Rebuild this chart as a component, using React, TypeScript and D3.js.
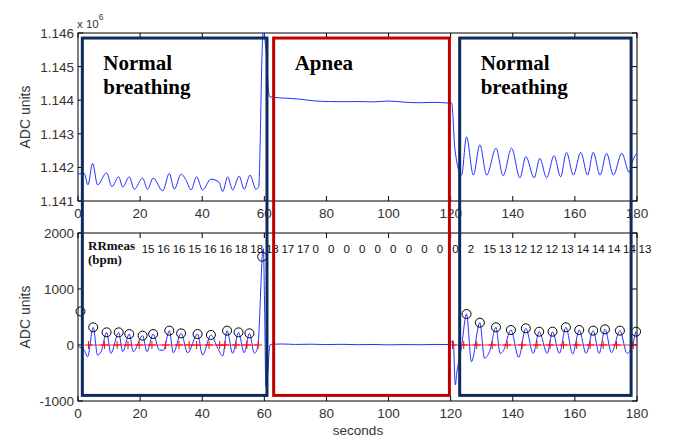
import React from 'react';
import * as d3 from 'd3';

const W = 675;
const H = 438;

// raw ADC signal, top panel: [seconds, ADC units]
const rawSignal: [number, number][] = [
  [0, 1141800], [2.0, 1141820], [3.2, 1141480], [4.7, 1142120], [6.3, 1141480],
  [9.2, 1141840], [10.9, 1141430], [13.1, 1141720], [14.4, 1141410], [16.5, 1141720],
  [18.1, 1141350], [20.8, 1141680], [22.4, 1141350], [24.2, 1141680], [27.3, 1141300],
  [29.4, 1141820], [31.0, 1141350], [33.2, 1141800], [34.8, 1141620], [36.4, 1141330],
  [38.2, 1141720], [40.1, 1141330], [42.8, 1141650], [45.4, 1141560], [46.6, 1141280],
  [48.2, 1141720], [49.8, 1141330], [51.9, 1141740], [53.5, 1141350], [55.4, 1141770],
  [57.3, 1141350], [58.2, 1141430], [58.6, 1142500], [59.2, 1145200], [59.7, 1146200],
  [60.2, 1145790], [60.8, 1145200], [61.3, 1144300], [61.8, 1144100], [63.4, 1144080],
  [67, 1144060], [71.5, 1144030], [76, 1143980], [81, 1143960], [86, 1143955],
  [90, 1143960], [95, 1143950], [100, 1143975], [104, 1143950], [107, 1143930],
  [110, 1143925], [114, 1143935], [117, 1143930], [119.4, 1143915], [120.3, 1143920],
  [121.4, 1142520], [123.5, 1141770], [125.1, 1142910], [127.3, 1141770], [129.4, 1142670],
  [131.6, 1141770], [134.6, 1142570], [136.9, 1141750], [139.6, 1142570], [142.3, 1141690],
  [144.2, 1142320], [146.9, 1141690], [148.7, 1142270], [150.9, 1141690], [153.3, 1142350],
  [155.4, 1141720], [157.3, 1142450], [159.5, 1141770], [161.9, 1142450], [164.1, 1141770],
  [165.9, 1142450], [168.1, 1141770], [170.2, 1142420], [172.4, 1141770], [175.1, 1142420],
  [177.5, 1141850], [178.7, 1142220], [180, 1142430],
];

// filtered signal, bottom panel
const filtSignal: [number, number][] = [
  [0, -30], [2.0, -90], [3.1, -210], [4.9, 316], [6.3, -180], [7.5, -110],
  [9.2, 226], [10.6, -150], [13.1, 226], [14.4, -120], [16.5, 196], [17.8, -120],
  [20.8, 167], [22.2, -120], [24.2, 196], [26.2, -90], [27.5, -95], [29.4, 256],
  [30.7, -140], [33.2, 208], [35.3, -140], [38.5, 196], [40.1, -180], [42.8, 179],
  [45.0, -60], [46.6, -196], [48.0, 256], [49.8, -150], [51.7, 226], [53.5, -137],
  [55.2, 208], [56.8, -150], [57.9, -30], [59.0, 1200], [59.3, 1577], [59.7, 1720],
  [60.1, 625], [60.5, -745], [61.1, -500], [61.8, 0], [62.5, 15], [66, 18],
  [70, 10], [75, 14], [80, 8], [85, 12], [90, 6], [95, 10], [100, 3], [105, 8],
  [110, 5], [115, 10], [119.3, 8], [120.8, 77], [121.5, -714], [122.0, -480],
  [122.6, -300], [123.5, -30], [125.1, 553], [126.7, -298], [129.4, 399], [130.9, -238],
  [132.5, -120], [134.6, 316], [135.9, -150], [137.0, -100], [139.4, 268], [141.9, -220],
  [144.2, 298], [146.6, -150], [148.5, 238], [151.1, -150], [152.8, 238], [155.0, -150],
  [157.1, 316], [159.3, -160], [161.4, 268], [163.6, -150], [165.9, 256], [167.8, -150],
  [169.7, 280], [171.8, -137], [174.5, 256], [176.8, -150], [178.7, 30], [179.7, 238],
  [180, 120],
];

// detected peaks (black circles)
const peaks: [number, number][] = [
  [0.8, 600], [4.9, 316], [9.2, 226], [13.1, 226], [16.5, 196], [20.8, 167], [24.2, 196],
  [29.4, 256], [33.2, 208], [38.5, 196], [42.8, 179], [48.0, 256], [51.7, 226], [55.2, 208],
  [59.3, 1577], [125.1, 553], [129.4, 399], [134.6, 316], [139.4, 268], [144.2, 298],
  [148.5, 238], [152.8, 238], [157.1, 316], [161.4, 268], [165.9, 256], [169.7, 280],
  [174.5, 256], [179.7, 238],
];

// breath onsets (red +), two breathing sections
const onsetsLeft = [3.4, 8.5, 12.6, 16.1, 19.7, 23.8, 28.2, 32.5, 35.8, 38.2, 42.2, 45.6, 47.3, 50.9, 54.4, 58.0];
const onsetsRight = [120.6, 124.2, 128.4, 133.4, 138.2, 143.0, 147.8, 152.0, 156.3, 160.6, 164.9, 169.1, 173.4, 178.8];

// measured respiration rate, one label every 5 s
const rrValues = [15, 16, 16, 15, 16, 16, 18, 18, 18, 17, 17, 0, 0, 0, 0, 0, 0, 0, 0, 0, 0, 2, 15, 13, 12, 12, 12, 13, 14, 14, 14, 14, 13];
const rrStart = 20.5;
const rrStep = 5;

// annotated sections
const boxStart = [1.4, 63.0, 122.9];
const boxEnd = [60.85, 119.6, 178.1];
const boxLabels = [['Normal', 'breathing'], ['Apnea'], ['Normal', 'breathing']];
const boxKinds = ['normal', 'apnea', 'normal'];

const xTicks = d3.range(0, 181, 20);
const topTicks = [1141000, 1142000, 1143000, 1144000, 1145000, 1146000];
const botTicks = [-1000, 0, 1000, 2000];

const left = 78, right = 637;

export default function App() {
  const x = d3.scaleLinear().domain([0, 180]).range([left, right]);
  const yTop = d3.scaleLinear().domain([1141000, 1146000]).range([201, 33]);
  const yBot = d3.scaleLinear().domain([-1000, 2000]).range([401, 233]);

  const topLine = d3.line<[number, number]>().x(d => x(d[0])).y(d => yTop(d[1])).curve(d3.curveMonotoneX);
  const botLine = d3.line<[number, number]>().x(d => x(d[0])).y(d => yBot(d[1])).curve(d3.curveMonotoneX);
  const zeroLine = d3.line<number>().x(t => x(t)).y(() => yBot(0));

  const font = 'Arial, "Liberation Sans", sans-serif';
  const serif = '"Times New Roman", "Liberation Serif", serif';
  const txt = '#333';
  const blue = '#2233ff';

  const panel = (y: d3.ScaleLinear<number, number>, ticks: number[], fmt: (v: number) => string, key: string) => {
    const [y0, y1] = y.range();
    return (
      <g key={key}>
        <rect x={left} y={y1} width={right - left} height={y0 - y1} fill="none" stroke="#000" strokeWidth={1} />
        {xTicks.map(t => (
          <g key={t}>
            <line x1={x(t)} x2={x(t)} y1={y0} y2={y0 - 5} stroke="#000" />
            <line x1={x(t)} x2={x(t)} y1={y1} y2={y1 + 5} stroke="#000" />
            <text x={x(t)} y={y0 + 17} textAnchor="middle" fontSize={13.5} fontFamily={font} fill={txt}>{t}</text>
          </g>
        ))}
        {ticks.map(v => (
          <g key={v}>
            <line x1={left} x2={left + 5} y1={y(v)} y2={y(v)} stroke="#000" />
            <line x1={right} x2={right - 5} y1={y(v)} y2={y(v)} stroke="#000" />
            <text x={left - 4} y={y(v) + 5} textAnchor="end" fontSize={13.5} fontFamily={font} fill={txt}>{fmt(v)}</text>
          </g>
        ))}
        <text transform={`translate(30,${(y0 + y1) / 2}) rotate(-90)`} textAnchor="middle" fontSize={14} fontFamily={font} fill={txt}>ADC units</text>
      </g>
    );
  };

  const boxTop = yTop(1145850);
  const boxBottom = yBot(-900);

  return (
    <svg width={W} height={H} style={{ position: 'absolute', left: 0, top: 0, background: '#fff' }}>
      <defs>
        <clipPath id="clipTop"><rect x={left} y={33} width={right - left} height={168} /></clipPath>
        <clipPath id="clipBot"><rect x={left} y={233} width={right - left} height={168} /></clipPath>
      </defs>

      {panel(yTop, topTicks, v => d3.format('.3f')(v / 1e6), 'top')}
      {panel(yBot, botTicks, v => String(v), 'bot')}

      <text x={77} y={28} fontSize={11.5} fontFamily={font} fill={txt}>
        x 10<tspan dy={-8} fontSize={8.5}>6</tspan>
      </text>

      <path d={topLine(rawSignal) || ''} fill="none" stroke={blue} strokeWidth={1} clipPath="url(#clipTop)" />
      <path d={botLine(filtSignal) || ''} fill="none" stroke={blue} strokeWidth={1} clipPath="url(#clipBot)" />

      {[onsetsLeft, onsetsRight].map((ons, i) => (
        <g key={i}>
          <path d={zeroLine(ons) || ''} fill="none" stroke="#ff0000" strokeWidth={0.8} />
          {ons.map(t => (
            <path key={t} d={`M${x(t) - 4},${yBot(0)}h8M${x(t)},${yBot(0) - 4}v8`} stroke="#ff0000" strokeWidth={1} />
          ))}
        </g>
      ))}

      {peaks.map(([t, v]) => (
        <circle key={t} cx={x(t)} cy={yBot(v)} r={4.5} fill="none" stroke="#000" strokeWidth={1} />
      ))}

      {rrValues.map((r, i) => (
        <text key={i} x={x(rrStart + i * rrStep)} y={253} fontSize={11.5} fontFamily={font} fill="#111">{r}</text>
      ))}
      <text x={88} y={249.5} fontSize={13} fontWeight="bold" fontFamily={serif} fill="#111">RRmeas</text>
      <text x={88} y={264} fontSize={13} fontWeight="bold" fontFamily={serif} fill="#111">(bpm)</text>

      <text x={358} y={435} textAnchor="middle" fontSize={13.5} fontFamily={font} fill={txt}>seconds</text>

      {boxStart.map((t0, i) => (
        <g key={i}>
          <rect x={x(t0)} y={boxTop} width={x(boxEnd[i]) - x(t0)} height={boxBottom - boxTop}
            fill="none" stroke={boxKinds[i] === 'apnea' ? '#c00000' : '#0e2a5e'} strokeWidth={3} />
          {boxLabels[i].map((s, j) => (
            <text key={j} x={x(t0) + 21} y={70 + j * 24} fontSize={21} fontWeight="bold" fontFamily={serif} fill="#000">{s}</text>
          ))}
        </g>
      ))}
    </svg>
  );
}
